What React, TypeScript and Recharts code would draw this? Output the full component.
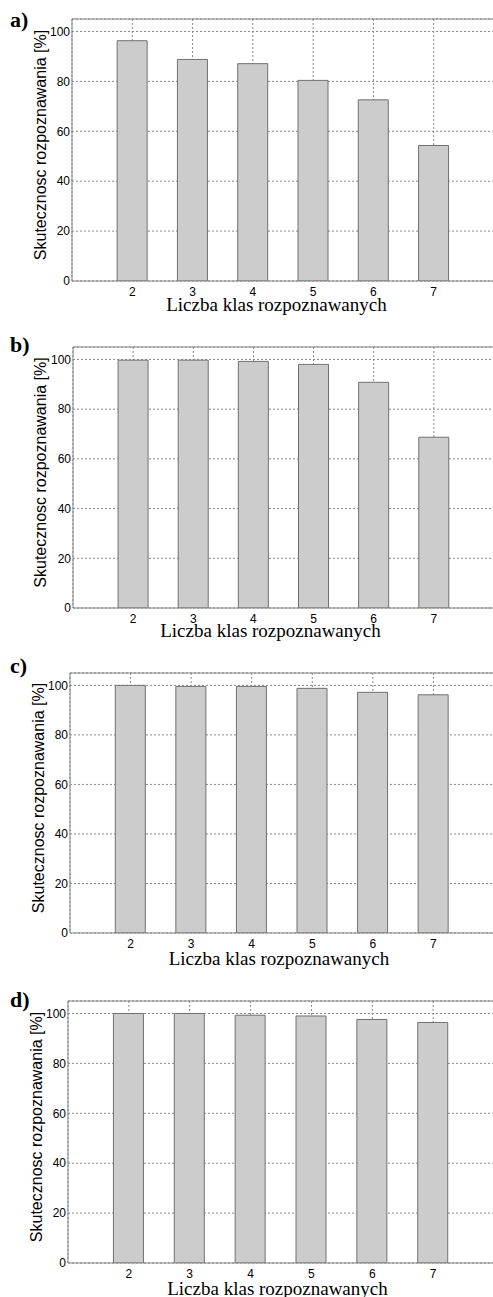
import React from 'react';
import { BarChart, Bar, XAxis, YAxis, CartesianGrid, ReferenceLine } from 'recharts';

const CATEGORIES = [2, 3, 4, 5, 6, 7];
const SERIES_A = [96.3, 88.8, 87.1, 80.4, 72.6, 54.3];
const SERIES_B = [99.7, 99.7, 99.2, 98.0, 90.8, 68.7];
const SERIES_C = [100, 99.6, 99.6, 98.8, 97.2, 96.2];
const SERIES_D = [100, 100, 99.3, 99.0, 97.6, 96.4];
const X_TICKS = [2, 3, 4, 5, 6, 7];
const Y_TICKS = [0, 20, 40, 60, 80, 100];
const PANEL_LETTERS = ['a)', 'b)', 'c)', 'd)'];
const X_LABEL = 'Liczba klas rozpoznawanych';
const Y_LABEL = 'Skutecznosc rozpoznawania [%]';

const SERIES = [SERIES_A, SERIES_B, SERIES_C, SERIES_D];

// layout (pixels)
const LAYOUT = [
  { top: 19, bottom: 281, left: 72, letterY: 27, xLabelX: 276.5, xLabelY: 311, yLabelX: 45.5 },
  { top: 347, bottom: 608, left: 73, letterY: 352, xLabelX: 270.5, xLabelY: 637, yLabelX: 46 },
  { top: 673, bottom: 933, left: 70, letterY: 673, xLabelX: 279, xLabelY: 965, yLabelX: 44 },
  { top: 1001, bottom: 1263, left: 68, letterY: 1007, xLabelX: 277.5, xLabelY: 1295, yLabelX: 42.3 },
];

const AXIS_COLOR = '#858585';
const TICK_STYLE = { fill: '#000', fontSize: 12, fontFamily: 'Liberation Sans, Arial, sans-serif' };

function Panel({ values, top, bottom, left }: { values: number[]; top: number; bottom: number; left: number }) {
  const data = CATEGORIES.map((k, i) => ({ k, v: values[i] }));
  return (
    <div style={{ position: 'absolute', left: 0, top: top - 10 }}>
      <BarChart
        width={496}
        height={bottom - top + 50}
        data={data}
        margin={{ top: 10, right: 2, left: 0, bottom: 6 }}
      >
        <CartesianGrid stroke="#8a8a8a" strokeDasharray="2 2" />
        <XAxis
          type="number"
          dataKey="k"
          domain={[1, 8]}
          ticks={X_TICKS}
          interval={0}
          height={34}
          tickLine={false}
          tickSize={0}
          tickMargin={6}
          axisLine={{ stroke: AXIS_COLOR }}
          tick={TICK_STYLE}
          allowDataOverflow
        />
        <YAxis
          type="number"
          domain={[0, 105]}
          ticks={Y_TICKS}
          interval={0}
          width={left}
          tickLine={false}
          tickSize={0}
          tickMargin={2}
          axisLine={{ stroke: AXIS_COLOR }}
          tick={TICK_STYLE}
          allowDataOverflow
        />
        <ReferenceLine y={105} stroke={AXIS_COLOR} />
        <ReferenceLine x={8} stroke={AXIS_COLOR} />
        <Bar dataKey="v" fill="#cccccc" stroke="#707070" strokeWidth={1} barSize={30} isAnimationActive={false} />
      </BarChart>
    </div>
  );
}

export default function App() {
  return (
    <div
      style={{
        position: 'absolute',
        left: 0,
        top: 0,
        width: 493,
        height: 1297,
        overflow: 'hidden',
        background: '#fff',
      }}
    >
      {LAYOUT.map((l, i) => (
        <Panel key={i} values={SERIES[i]} top={l.top} bottom={l.bottom} left={l.left} />
      ))}
      <svg width={493} height={1297} style={{ position: 'absolute', left: 0, top: 0, pointerEvents: 'none' }}>
        {LAYOUT.map((l, i) => {
          const cy = (l.top + l.bottom) / 2 - 5;
          return (
            <g key={i}>
              <text
                x={10}
                y={l.letterY}
                fontFamily="Liberation Serif, Times New Roman, serif"
                fontWeight="bold"
                fontSize={22}
                fill="#000"
              >
                {PANEL_LETTERS[i]}
              </text>
              <text
                x={l.xLabelX}
                y={l.xLabelY}
                textAnchor="middle"
                fontFamily="Liberation Serif, Times New Roman, serif"
                fontSize={19}
                fill="#000"
              >
                {X_LABEL}
              </text>
              <text
                x={l.yLabelX}
                y={cy}
                textAnchor="middle"
                transform={`rotate(-90, ${l.yLabelX}, ${cy})`}
                fontFamily="Liberation Sans, Arial, sans-serif"
                fontSize={16}
                fill="#000"
              >
                {Y_LABEL}
              </text>
            </g>
          );
        })}
      </svg>
    </div>
  );
}
